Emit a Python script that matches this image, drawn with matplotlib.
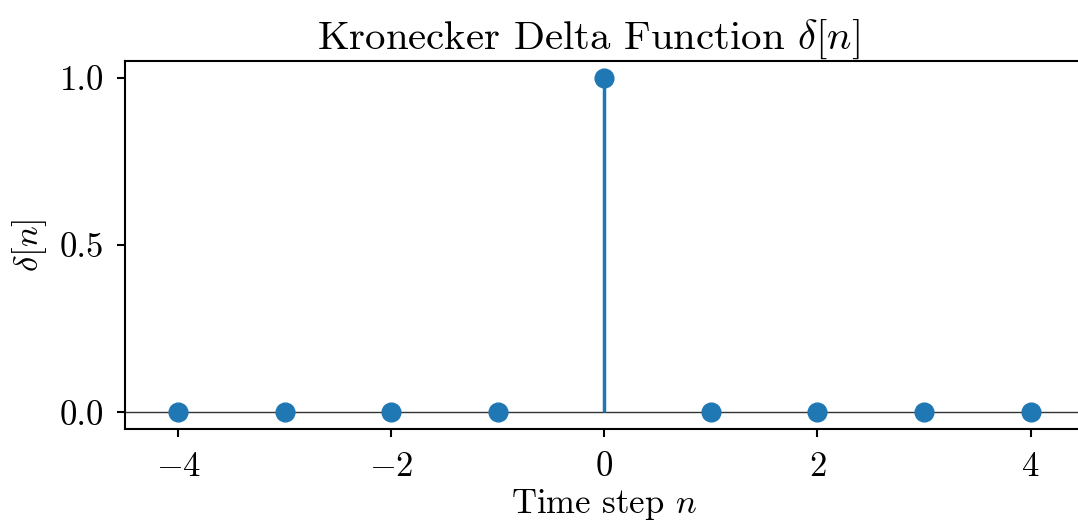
import numpy as np
import matplotlib
matplotlib.use('Agg')
import matplotlib.pyplot as plt

# LaTeX-like look without a TeX install
plt.rcParams['font.family'] = 'serif'
plt.rcParams['font.serif'] = ['cmr10']
plt.rcParams['mathtext.fontset'] = 'cm'
plt.rcParams['axes.formatter.use_mathtext'] = True
plt.rcParams['font.size'] = 25

# data
n = [-4, -3, -2, -1, 0, 1, 2, 3, 4]
delta = [0, 0, 0, 0, 1, 0, 0, 0, 0]

fig = plt.figure(figsize=(10.78, 5.24), dpi=100)
ax = fig.add_axes([0.116, 0.181, 0.8894, 0.703])

# zero line across the whole axis
ax.axhline(0, color='#333333', linewidth=1.0, zorder=1)
markerline, stemlines, baseline = ax.stem(n, delta, basefmt=' ')
plt.setp(markerline, markersize=13.5, color='#1f77b4', zorder=3)
plt.setp(stemlines, linewidth=2.5, color='#1f77b4')

ax.set_xlim(-4.5, 4.5)
ax.set_xticks([-4, -2, 0, 2, 4])
ax.set_yticks([0.0, 0.5, 1.0])
ax.set_yticklabels(['0.0', '0.5', '1.0'])
for s in ax.spines.values():
    s.set_linewidth(1.5)
ax.tick_params(width=1.5, length=6)
ax.tick_params(axis='y', pad=9)
ax.tick_params(axis='x', pad=10)

ax.set_xlabel(r'Time step $n$', labelpad=3)
ax.set_ylabel(r'$\delta[n]$', labelpad=8)
ax.set_title(r'Kronecker Delta Function $\delta[n]$', fontsize=29.4, pad=8, x=0.483)

fig.savefig('out.png', dpi=100)
